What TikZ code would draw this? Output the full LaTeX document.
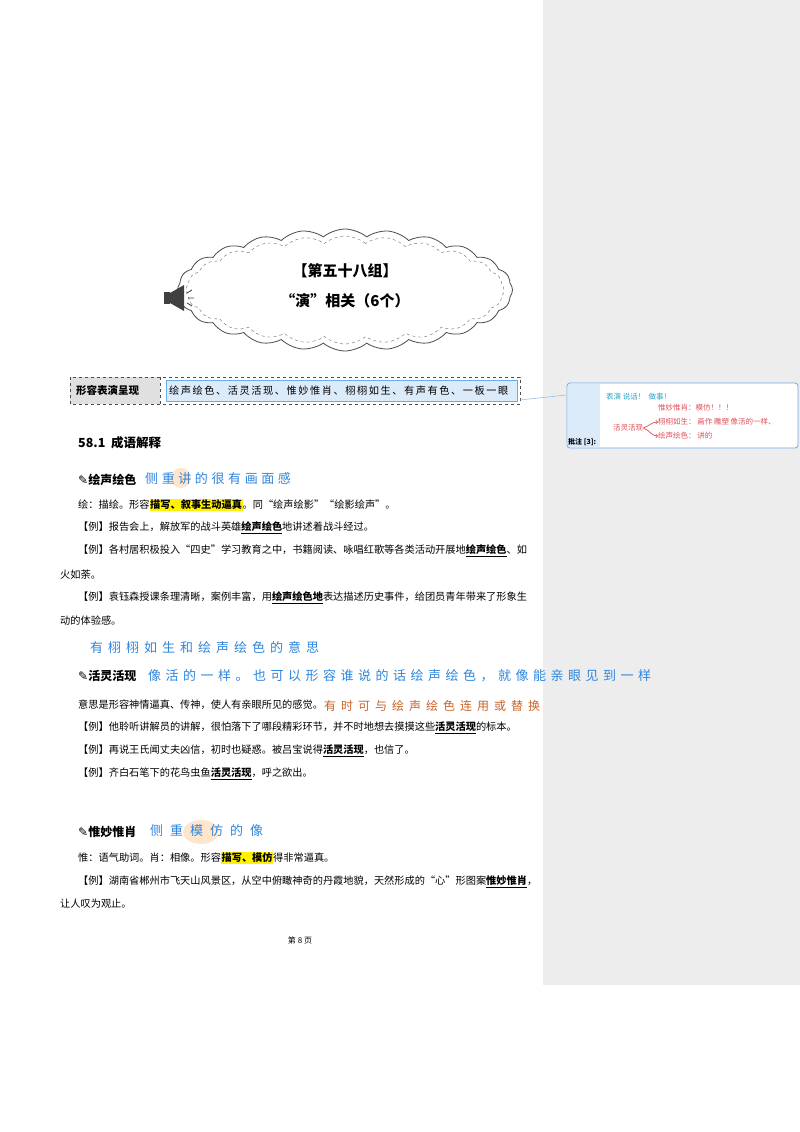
\documentclass[tikz,border=0pt]{standalone}
\usepackage{fontspec}
\setmainfont{Noto Sans CJK SC}
\newfontfamily\djv{DejaVu Sans}
\usetikzlibrary{shapes.symbols}
\definecolor{panel}{HTML}{EDEDED}
\definecolor{hand}{HTML}{2E86DE}
\definecolor{handor}{HTML}{C8642A}
\definecolor{cred}{HTML}{E0505A}
\definecolor{ccyan}{HTML}{2AA7C9}
\definecolor{hlblue}{HTML}{DCEBFA}
\newlength\gp
\renewcommand{\k}{\hspace{\gp}}
\newcommand{\hly}[1]{{\setlength{\fboxsep}{0.6pt}\colorbox{yellow}{\textbf{#1}}}}
\newcommand{\ul}[1]{\underline{\textbf{#1}}}
\begin{document}
\begin{tikzpicture}[x=1pt,y=-1pt,
  body/.style={anchor=west,inner sep=0,font=\fontsize{10.2}{12}\selectfont},
  head/.style={anchor=west,inner sep=0,font=\fontsize{12}{14}\selectfont\bfseries},
  handw/.style={anchor=west,inner sep=0,text=hand,font=\fontsize{13}{15}\selectfont\setlength\gp{3.6pt}}]
\useasboundingbox (0,0) rectangle (800,1132);
\fill[white] (0,0) rectangle (800,1132);
\fill[panel] (543,0) rectangle (800,985);
% cloud
\node[cloud,cloud puffs=24,cloud puff arc=80,aspect=2.7,draw=black!70,line width=0.8pt,minimum width=335,minimum height=122] (cl) at (345,290) {};
\node[cloud,cloud puffs=24,cloud puff arc=80,aspect=2.7,draw=black!60,dashed,minimum width=318,minimum height=108] (cl2) at (345,290) {};
\node[inner sep=0,font=\fontsize{15}{18}\selectfont\bfseries] (t1) at (345,271) {【第五十八组】};
\node[inner sep=0,font=\fontsize{15}{18}\selectfont\bfseries] (t2) at (345,301) {“演”相关（6个）};
% megaphone
\fill[black!75] (164,292) rectangle (170,304);
\fill[black!75] (170,293) -- (184,285) -- (184,311) -- (170,303) -- cycle;
\draw[black!75,line width=0.8pt] (187,293) -- (192,290) (188,298) -- (194,298) (187,303) -- (192,306);
% table
\fill[black!12] (70,377) rectangle (160,404);
\draw[black!70,dashed] (70,377) rectangle (520,404) (160,377) -- (160,404);
\node[head,font=\fontsize{10.5}{12}\selectfont\bfseries] (tk) at (76,390.5) {形容表演呈现};
\fill[hlblue] (166,380) rectangle (517,401);
\draw[hand!70] (166,380) rectangle (517,401);
\node[body,font=\fontsize{10.2}{12}\selectfont\setlength\gp{1.55pt}] (tv) at (169,390.5) {绘\k 声\k 绘\k 色\k 、\k 活\k 灵\k 活\k 现\k 、\k 惟\k 妙\k 惟\k 肖\k 、\k 栩\k 栩\k 如\k 生\k 、\k 有\k 声\k 有\k 色\k 、\k 一\k 板\k 一\k 眼};
% comment
\coordinate (ca) at (520,400);
\draw[hand!60,line width=0.5pt] (ca) -- (566,395);
\draw[hand!70,fill=white,rounded corners=3pt,line width=0.8pt] (567,383) rectangle (798,448);
\fill[hlblue] (568,384) rectangle (600,447);
\node[anchor=west,inner sep=0,font=\fontsize{7}{8}\selectfont\bfseries] (cn) at (568,442) {批注 [3]:};
\node[anchor=west,inner sep=0,text=ccyan,font=\fontsize{7.5}{9}\selectfont] (c1) at (606,397) {表演 说话！ \ 做事！};
\node[anchor=west,inner sep=0,text=cred,font=\fontsize{7.5}{9}\selectfont] (c2) at (658,408) {惟妙惟肖：模仿！！！};
\node[anchor=west,inner sep=0,text=cred,font=\fontsize{7.5}{9}\selectfont] (c3) at (658,422) {栩栩如生：\ 画作 雕塑 像活的一样、};
\node[anchor=west,inner sep=0,text=cred,font=\fontsize{7.5}{9}\selectfont] (c4) at (658,436) {绘声绘色：\ 讲的};
\node[anchor=west,inner sep=0,text=cred,font=\fontsize{7.5}{9}\selectfont] (c5) at (613,428) {活灵活现};
\draw[cred,->,line width=0.7pt] (c5.east) to[out=20,in=180] (c3.west);
\draw[cred,->,line width=0.7pt] (c5.east) to[out=-20,in=180] (c4.west);
% section
\node[anchor=west,inner sep=0,font=\fontsize{12.5}{14}\selectfont\bfseries] (sec) at (78,443) {58.1\ \ 成语解释};
% 绘声绘色
\node[head] (h1) at (78,480) {{\djv ✎}绘声绘色};
\fill[orange!20] (181,478) circle (10);
\node[handw] (a1) at (145,479) {侧\k 重\k 讲\k 的\k 很\k 有\k 画\k 面\k 感};
\node[body] (l1) at (78,505) {绘：描绘。形容\hly{描写、叙事生动逼真}。同“绘声绘影”“绘影绘声”。};
\node[body] (l2) at (78,528) {【例】报告会上，解放军的战斗英雄\ul{绘声绘色}地讲述着战斗经过。};
\node[body] (l3) at (78,551) {【例】各村居积极投入“四史”学习教育之中，书籍阅读、咏唱红歌等各类活动开展地\ul{绘声绘色}、如};
\node[body] (l4) at (60,575) {火如荼。};
\node[body] (l5) at (78,598) {【例】袁钰森授课条理清晰，案例丰富，用\ul{绘声绘色地}表达描述历史事件，给团员青年带来了形象生};
\node[body] (l6) at (60,621) {动的体验感。};
\node[handw,font=\fontsize{13}{15}\selectfont\setlength\gp{5pt}] (a2) at (90,648) {有\k 栩\k 栩\k 如\k 生\k 和\k 绘\k 声\k 绘\k 色\k 的\k 意\k 思};
% 活灵活现
\node[head] (h2) at (78,676) {{\djv ✎}活灵活现};
\node[handw,font=\fontsize{13}{15}\selectfont\setlength\gp{4.5pt}] (a3) at (148,676) {像\k 活\k 的\k 一\k 样\k 。\k 也\k 可\k 以\k 形\k 容\k 谁\k 说\k 的\k 话\k 绘\k 声\k 绘\k 色\k ，\k 就\k 像\k 能\k 亲\k 眼\k 见\k 到\k 一\k 样};
\node[body] (l7) at (78,705) {意思是形容神情逼真、传神，使人有亲眼所见的感觉。};
\node[handw,text=handor,font=\fontsize{12}{14}\selectfont\setlength\gp{5pt}] (a4) at (324,706) {有\k 时\k 可\k 与\k 绘\k 声\k 绘\k 色\k 连\k 用\k 或\k 替\k 换};
\node[body] (l8) at (78,728) {【例】他聆听讲解员的讲解，很怕落下了哪段精彩环节，并不时地想去摸摸这些\ul{活灵活现}的标本。};
\node[body] (l9) at (78,751) {【例】再说王氏闻丈夫凶信，初时也疑惑。被吕宝说得\ul{活灵活现}，也信了。};
\node[body] (l10) at (78,774) {【例】齐白石笔下的花鸟虫鱼\ul{活灵活现}，呼之欲出。};
% 惟妙惟肖
\node[head] (h3) at (78,832) {{\djv ✎}惟妙惟肖};
\fill[orange!20] (201,832) ellipse (18 and 12);
\node[handw,font=\fontsize{13}{15}\selectfont\setlength\gp{7pt}] (a5) at (150,831) {侧\k 重\k 模\k 仿\k 的\k 像};
\node[body] (l11) at (78,858) {惟：语气助词。肖：相像。形容\hly{描写、模仿}得非常逼真。};
\node[body] (l12) at (78,882) {【例】湖南省郴州市飞天山风景区，从空中俯瞰神奇的丹霞地貌，天然形成的“心”形图案\ul{惟妙惟肖}，};
\node[body] (l13) at (60,904) {让人叹为观止。};
\node[inner sep=0,font=\fontsize{8}{10}\selectfont] (pg) at (300,940) {第 8 页};
\end{tikzpicture}
\end{document}
